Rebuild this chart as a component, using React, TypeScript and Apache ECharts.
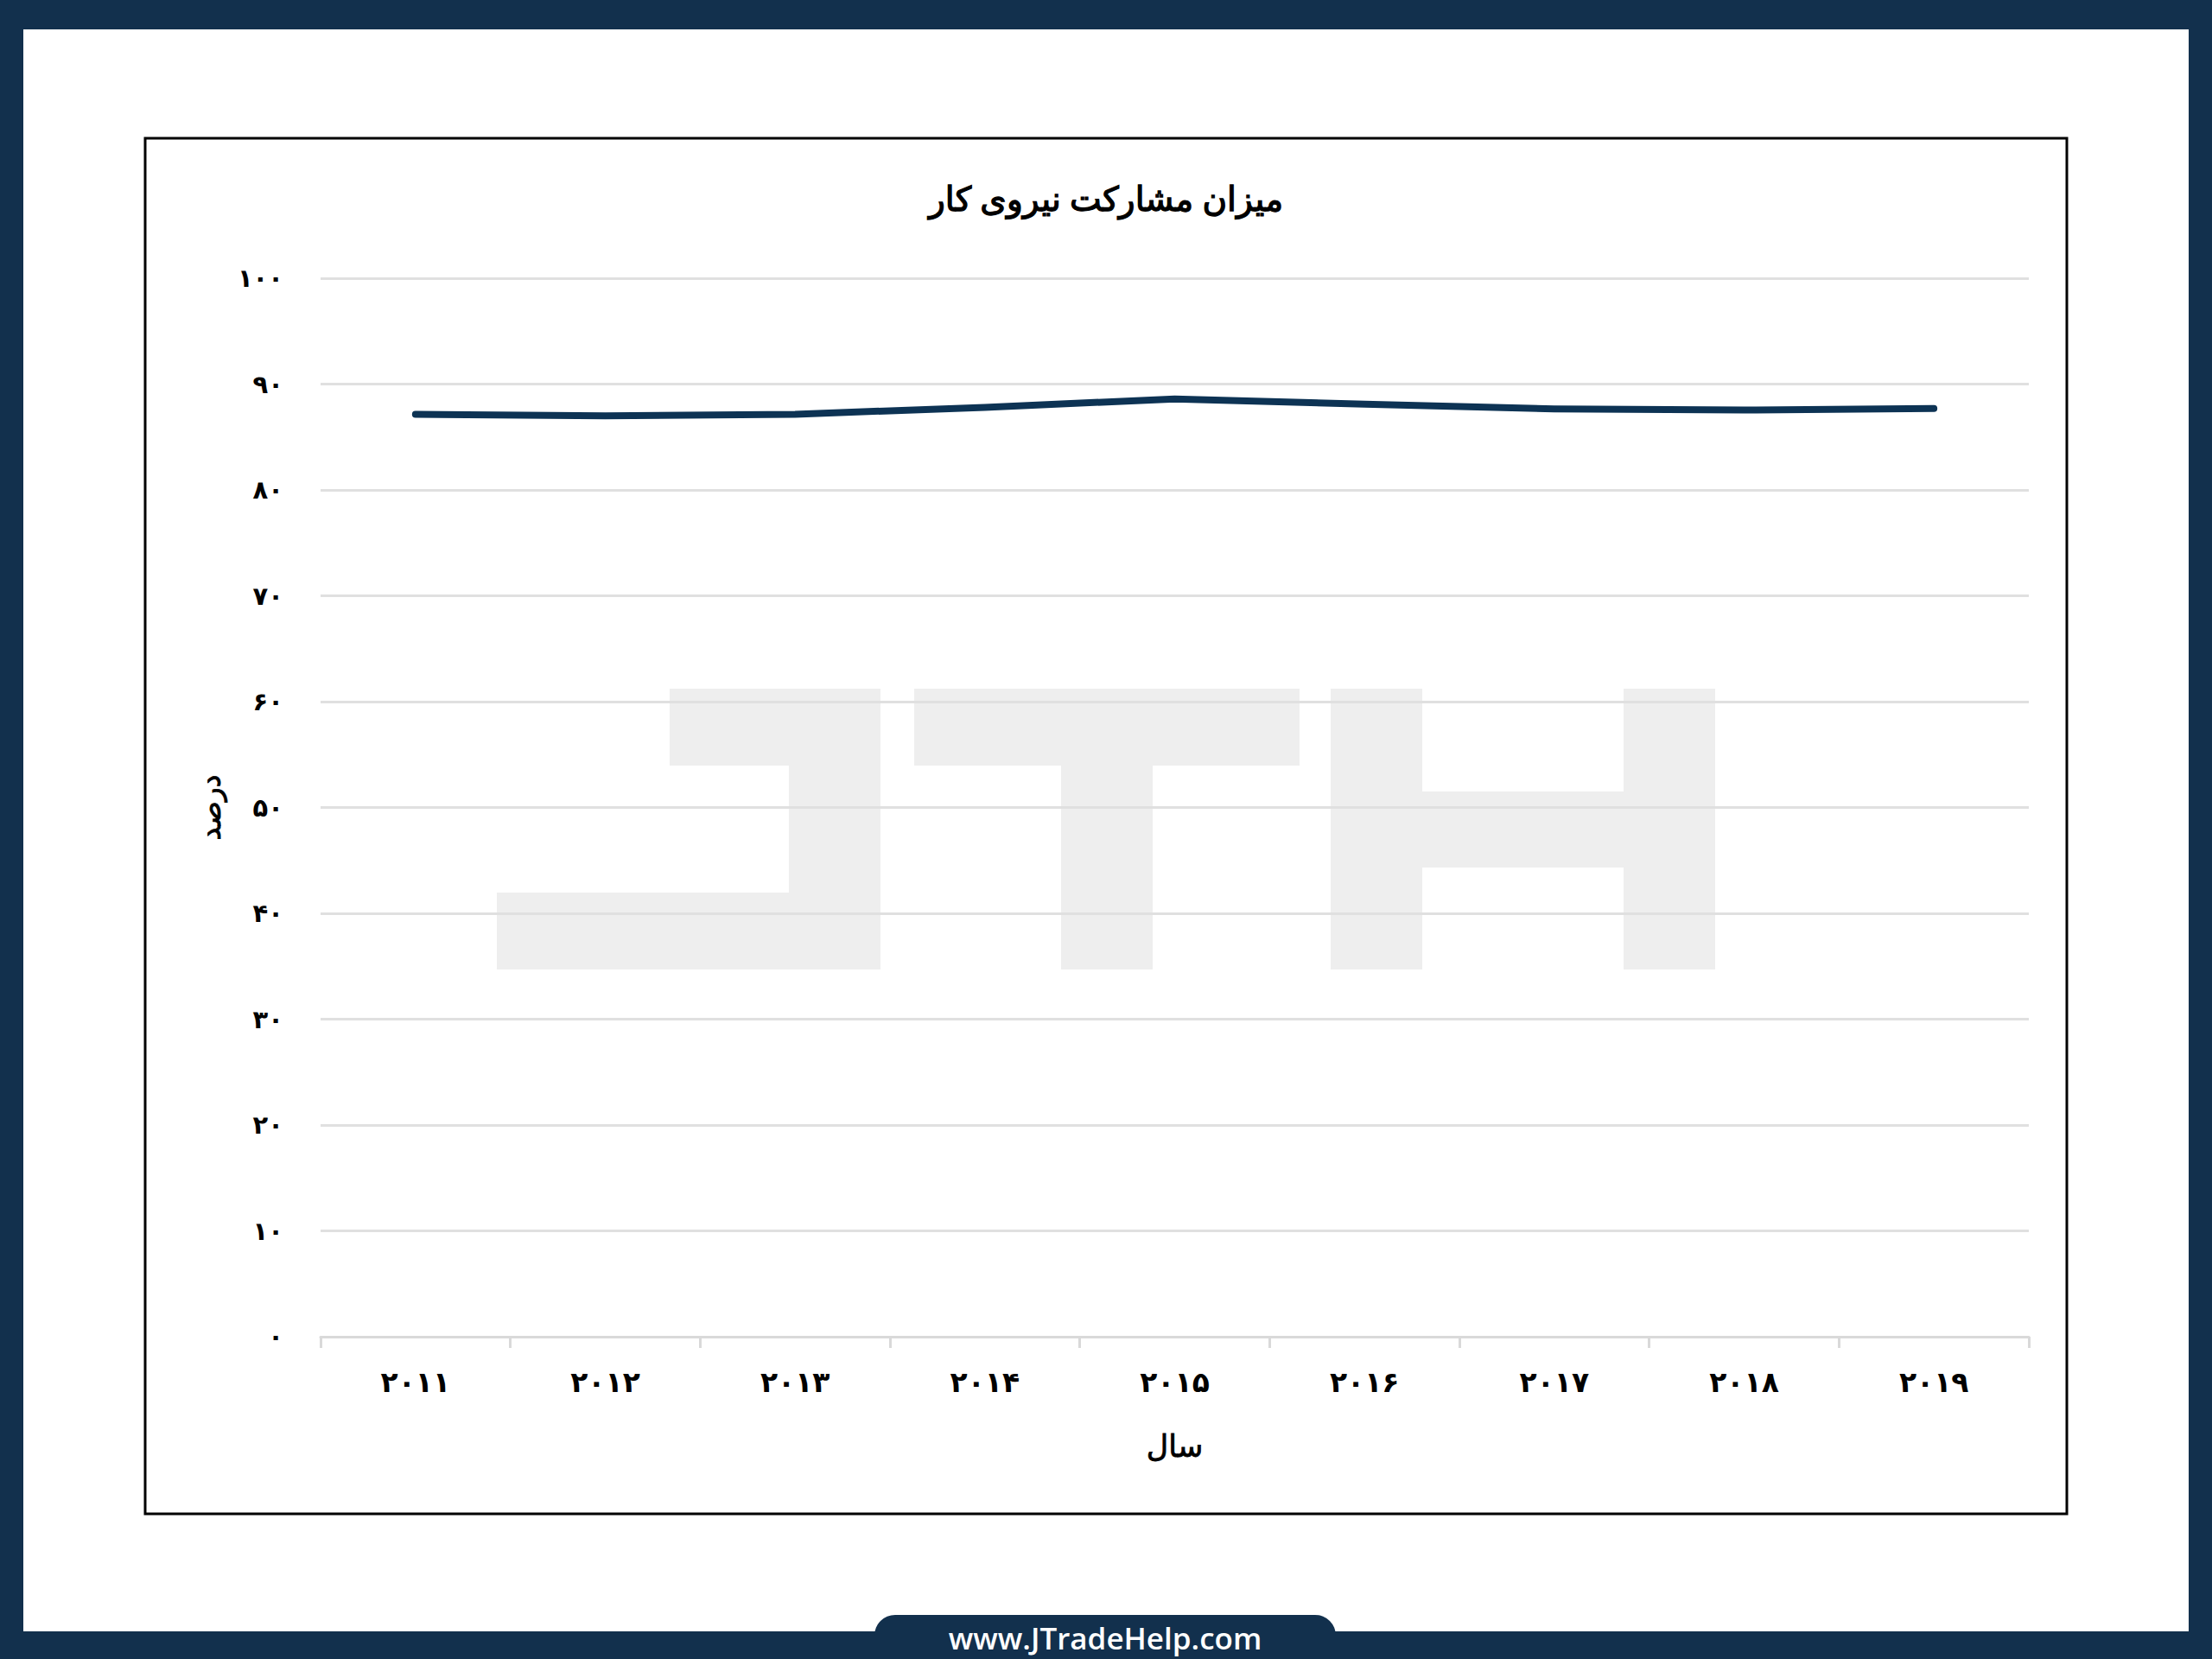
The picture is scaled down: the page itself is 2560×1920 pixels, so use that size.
import React, { useEffect, useRef } from "react";
import * as echarts from "echarts";

const categories = ["۲۰۱۱", "۲۰۱۲", "۲۰۱۳", "۲۰۱۴", "۲۰۱۵", "۲۰۱۶", "۲۰۱۷", "۲۰۱۸", "۲۰۱۹"];
const participation = [87.15, 87.0, 87.15, 87.8, 88.6, 88.1, 87.65, 87.55, 87.7];
const yTickLabels = ["۰", "۱۰", "۲۰", "۳۰", "۴۰", "۵۰", "۶۰", "۷۰", "۸۰", "۹۰", "۱۰۰"];
const titleText = "میزان مشارکت نیروی کار";
const yAxisName = "درصد";
const xAxisName = "سال";
const siteText = "www.JTradeHelp.com";

const TEXT_FONT = "'Noto Sans', 'DejaVu Sans', sans-serif";
const DIGIT_FONT = "'DejaVu Sans', 'Noto Sans', sans-serif";
const NAVY = "#12304d";
const WM = "#eeeeee";

export default function App() {
  const ref = useRef<HTMLDivElement>(null);
  useEffect(() => {
    if (!ref.current) return;
    const chart = echarts.init(ref.current, undefined, { renderer: "svg" });
    const wmRect = (x1: number, y1: number, x2: number, y2: number) => ({
      type: "rect",
      z: -2,
      shape: { x: x1, y: y1, width: x2 - x1, height: y2 - y1 },
      style: { fill: WM },
    });
    chart.setOption({
      animation: false,
      backgroundColor: "#ffffff",
      title: {
        text: titleText,
        left: "center",
        top: 204,
        textStyle: {
          fontFamily: TEXT_FONT,
          fontSize: 39,
          fontWeight: "normal",
          color: "#000000",
          textBorderColor: "#000000",
          textBorderWidth: 1.3,
        },
      },
      graphic: [
        { type: "rect", z: -10, shape: { x: 0, y: 0, width: 2560, height: 1920 }, style: { fill: NAVY } },
        { type: "rect", z: -9, shape: { x: 27, y: 34, width: 2506, height: 1854 }, style: { fill: "#ffffff" } },
        {
          type: "rect",
          z: -8,
          shape: { x: 168, y: 160, width: 2224, height: 1592 },
          style: { fill: "#ffffff", stroke: "#000000", lineWidth: 3 },
        },
        wmRect(775, 797, 1019, 886),
        wmRect(913, 797, 1019, 1122),
        wmRect(575, 1033, 1019, 1122),
        wmRect(1058, 797, 1504, 886),
        wmRect(1228, 886, 1334, 1122),
        wmRect(1540, 797, 1646, 1122),
        wmRect(1879, 797, 1985, 1122),
        wmRect(1646, 916, 1879, 1004),
        {
          type: "rect",
          z: 5,
          shape: { x: 1012, y: 1869, width: 534, height: 51, r: [24, 24, 0, 0] },
          style: { fill: NAVY },
        },
        {
          type: "text",
          z: 6,
          x: 1279,
          y: 1895,
          style: {
            text: siteText,
            fill: "#ffffff",
            font: "600 35px 'Open Sans', sans-serif",
            textAlign: "center",
            textVerticalAlign: "middle",
          },
        },
      ],
      grid: { left: 371, right: 212, top: 322, bottom: 373, containLabel: false },
      xAxis: {
        type: "category",
        data: categories,
        boundaryGap: true,
        name: xAxisName,
        nameLocation: "middle",
        nameGap: 108,
        nameTextStyle: {
          fontFamily: TEXT_FONT,
          fontSize: 35,
          color: "#000000",
          textBorderColor: "#000000",
          textBorderWidth: 0.8,
        },
        axisLine: { show: true, lineStyle: { color: "#d9d9d9", width: 3 } },
        axisTick: { show: true, length: 13, lineStyle: { color: "#d9d9d9", width: 3 } },
        axisLabel: { fontFamily: DIGIT_FONT, fontSize: 33, fontWeight: "bold", color: "#000000", margin: 36 },
        splitLine: { show: false },
      },
      yAxis: {
        type: "value",
        min: 0,
        max: 100,
        interval: 10,
        name: yAxisName,
        nameLocation: "middle",
        nameRotate: 90,
        nameGap: 112,
        nameTextStyle: {
          fontFamily: TEXT_FONT,
          fontSize: 33,
          color: "#000000",
          textBorderColor: "#000000",
          textBorderWidth: 0.8,
        },
        axisLine: { show: false },
        axisTick: { show: false },
        axisLabel: {
          fontFamily: DIGIT_FONT,
          fontSize: 29,
          fontWeight: "bold",
          color: "#000000",
          margin: 43,
          formatter: (v: number) => yTickLabels[Math.round(v / 10)] ?? String(v),
        },
        splitLine: { show: true, lineStyle: { color: "#e0e0e0", width: 3 } },
      },
      series: [
        {
          type: "line",
          data: participation,
          showSymbol: false,
          symbol: "none",
          smooth: false,
          z: 3,
          lineStyle: { color: "#0d3354", width: 8, cap: "round", join: "round" },
        },
      ],
    });
    return () => chart.dispose();
  }, []);
  return (
    <div
      ref={ref}
      style={{ position: "absolute", left: 0, top: 0, width: 2560, height: 1920 }}
    />
  );
}
